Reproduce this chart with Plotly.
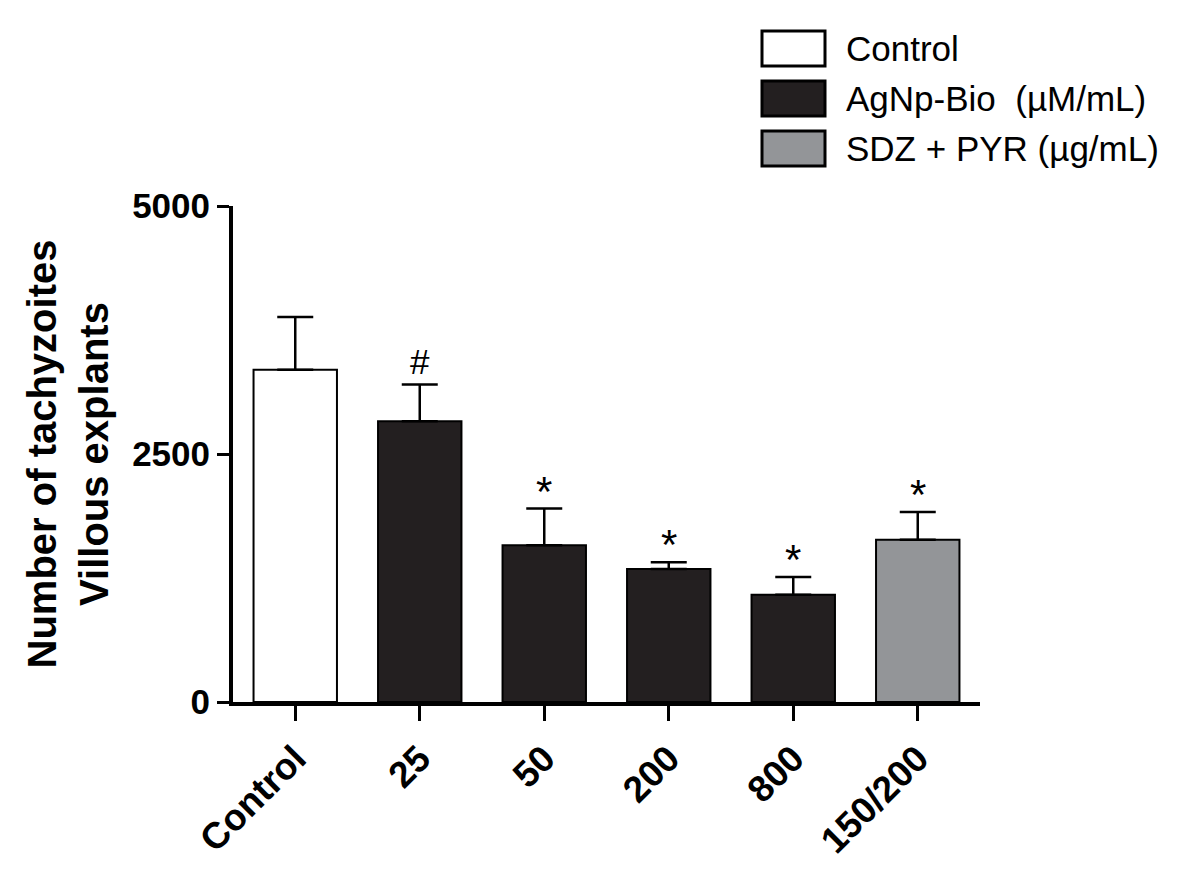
import plotly.graph_objects as go

# dados
categorias = ['Control', '25', '50', '200', '800', '150/200']
grupos = ['Control', 'AgNp', 'AgNp', 'AgNp', 'AgNp', 'SDZ']
media = [3350, 2830, 1580, 1340, 1080, 1635]
erro = [530, 370, 370, 70, 180, 280]
marcas = ['', '#', '*', '*', '*', '*']

legenda = ['Control', 'AgNp-Bio  (\u00b5M/mL)', 'SDZ + PYR (\u00b5g/mL)']
cores = {'Control': 'white', 'AgNp': '#231f20', 'SDZ': '#939598'}
ordem_legenda = ['Control', 'AgNp', 'SDZ']

W, H = 1181, 876
# area do grafico na pagina (o body do html tem margem de 8px)
PX0, PX1, PY0, PY1 = 233, 980, 206, 702
OFF = 8
L, T = PX0 - OFF, PY0 - OFF
R = W + OFF - PX1
B = H + OFF - PY1
FONTE = 'Liberation Sans, Arial, sans-serif'


def px(x, y):
    """converte pixel da pagina para coordenada paper"""
    return (x - PX0) / (PX1 - PX0), (PY1 - y) / (PY1 - PY0)


fig = go.Figure()

for g in ordem_legenda:
    idx = [i for i, gg in enumerate(grupos) if gg == g]
    fig.add_trace(go.Bar(
        x=[categorias[i] for i in idx],
        y=[media[i] for i in idx],
        width=0.67,
        marker=dict(color=cores[g], line=dict(color='black', width=2)),
        error_y=dict(type='data', symmetric=False,
                     array=[erro[i] for i in idx],
                     arrayminus=[0] * len(idx),
                     color='black', thickness=2.5, width=18),
        showlegend=False,
    ))

# asteriscos / cerquilha (x pelo indice da categoria)
for i, (m, e, s) in enumerate(zip(media, erro, marcas)):
    if not s:
        continue
    fig.add_annotation(x=i, y=m + e, text=s, showarrow=False,
                       yanchor='bottom', yshift=(2 if s == '#' else -8),
                       font=dict(family=FONTE, size=35 if s == '#' else 42, color='black'))

# legenda desenhada manualmente (caixas grandes)
for k, (g, nome) in enumerate(zip(ordem_legenda, legenda)):
    y0 = 31 + k * 50
    x0p, y0p = px(762, y0)
    x1p, y1p = px(825, y0 + 35)
    fig.add_shape(type='rect', xref='paper', yref='paper',
                  x0=x0p, x1=x1p, y0=y1p, y1=y0p,
                  fillcolor=cores[g], line=dict(color='black', width=3))
    tx, ty = px(844, y0 + 17.5)
    fig.add_annotation(xref='paper', yref='paper', x=tx, y=ty, text=nome,
                       showarrow=False, xanchor='left', yanchor='middle',
                       font=dict(family=FONTE, size=35, color='black'))

fig.update_layout(
    width=W, height=H,
    margin=dict(l=L, r=R, t=T, b=B),
    plot_bgcolor='white', paper_bgcolor='white',
    barmode='overlay',
    font=dict(family=FONTE, color='black'),
)

fig.update_xaxes(
    type='category', categoryorder='array', categoryarray=categorias,
    range=[-0.5, 5.5],
    showline=True, linecolor='black', linewidth=4,
    ticks='outside', ticklen=15, tickwidth=3, tickcolor='black',
    tickangle=-45, showgrid=False, ticklabelstandoff=1,
    tickfont=dict(family=FONTE, size=37, weight='bold', color='black'),
)

fig.update_yaxes(
    range=[0, 5000], tickvals=[0, 2500, 5000],
    showline=True, linecolor='black', linewidth=4,
    ticks='outside', ticklen=12, tickwidth=3, tickcolor='black',
    showgrid=False, zeroline=False,
    tickfont=dict(family=FONTE, size=35, weight='bold', color='black'),
    title=dict(text='Number of tachyzoites<br>Villous explants', standoff=12,
               font=dict(family=FONTE, size=40, weight='bold', color='black')),
)

fig.write_html('out.html')
